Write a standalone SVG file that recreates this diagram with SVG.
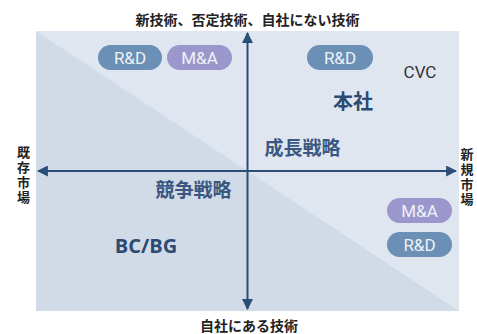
<svg xmlns="http://www.w3.org/2000/svg" width="477" height="334" viewBox="0 0 477 334">
<defs>
<style>
.jp{font-family:"Noto Sans CJK JP","Noto Sans",sans-serif;}
.lbl{font-size:14px;font-weight:bold;fill:#222;}
.vlbl{font-size:13px;font-weight:bold;fill:#222;writing-mode:vertical-rl;letter-spacing:2px;}
.str{font-size:19px;font-weight:bold;fill:#3a5781;}
.pill-t{font-family:Roboto,"Liberation Sans",sans-serif;font-size:17px;fill:#eef2f7;text-anchor:middle;}
.rd{fill:#6b8fb5;}
.ma{fill:#9b97cc;}
.axis{stroke:#2b4e78;stroke-width:2;fill:none;}
</style>
<marker id="ah" viewBox="0 0 10 10" refX="9" refY="5" markerWidth="5.5" markerHeight="5.5" orient="auto-start-reverse" markerUnits="strokeWidth">
<path d="M0,0 L10,5 L0,10 Z" fill="#2b4e78"/>
</marker>
</defs>
<rect width="477" height="334" fill="#ffffff"/>
<g id="background">
<rect x="36" y="31" width="423" height="280" fill="#dfe6f0"/>
<polygon points="36,31 459,311 36,311" fill="#d1dbe7"/>
</g>
<g id="connectors">
<line class="axis" x1="247.5" y1="309" x2="247.5" y2="33" marker-start="url(#ah)" marker-end="url(#ah)"/>
<line class="axis" x1="38" y1="171" x2="456" y2="171" marker-start="url(#ah)" marker-end="url(#ah)"/>
</g>
<g id="label-top"><text class="jp lbl" x="247.5" y="25" text-anchor="middle">新技術、否定技術、自社にない技術</text></g>
<g id="label-bottom"><text class="jp lbl" x="249" y="331" text-anchor="middle">自社にある技術</text></g>
<g id="label-left"><text class="jp vlbl" x="23.5" y="146">既存市場</text></g>
<g id="label-right"><text class="jp vlbl" x="467" y="148">新規市場</text></g>
<g id="pill-rd-1"><rect class="rd" x="98" y="45" width="64" height="25" rx="12.5"/><text class="pill-t" x="130" y="63.5">R&amp;D</text></g>
<g id="pill-ma-1"><rect class="ma" x="167" y="45" width="65" height="25" rx="12.5"/><text class="pill-t" x="199.5" y="63.5">M&amp;A</text></g>
<g id="pill-rd-2"><rect class="rd" x="307" y="45" width="66" height="25" rx="12.5"/><text class="pill-t" x="340" y="63.5">R&amp;D</text></g>
<g id="pill-ma-2"><rect class="ma" x="387" y="198" width="65" height="25" rx="12.5"/><text class="pill-t" x="419.5" y="216.5">M&amp;A</text></g>
<g id="pill-rd-3"><rect class="rd" x="387" y="232" width="65" height="25" rx="12.5"/><text class="pill-t" x="419.5" y="250.5">R&amp;D</text></g>
<g id="cvc"><text x="420" y="78" text-anchor="middle" font-family="Roboto,'Liberation Sans',sans-serif" font-size="17" fill="#333">CVC</text></g>
<g id="honsha"><text class="jp" x="353" y="109" text-anchor="middle" font-size="20" font-weight="bold" fill="#2c4a72">本社</text></g>
<g id="seicho"><text class="jp str" x="302.5" y="155" text-anchor="middle">成長戦略</text></g>
<g id="kyoso"><text class="jp str" x="193.5" y="197" text-anchor="middle">競争戦略</text></g>
<g id="bcbg"><text x="146" y="253" text-anchor="middle" font-family="'Open Sans','Liberation Sans',sans-serif" font-size="20" font-weight="bold" fill="#2c4a72">BC/BG</text></g>
</svg>
